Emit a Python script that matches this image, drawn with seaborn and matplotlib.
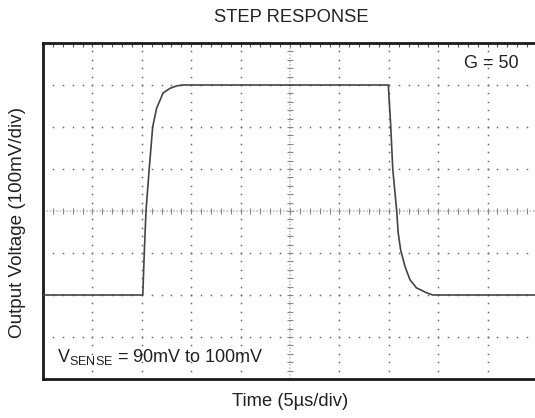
import numpy as np
import pandas as pd
import seaborn as sns

from matplotlib import pyplot as plt
from matplotlib.ticker import MultipleLocator

# trace, in divisions (x: 5us/div, y: 100mV/div)
TIME_DIV = [0.0, 2.02, 2.05, 2.085, 2.15, 2.22, 2.30, 2.37, 2.43, 2.57, 2.71, 2.83,
            6.99, 7.04, 7.08, 7.16, 7.19, 7.24, 7.33, 7.43, 7.56, 7.77, 7.89, 10.0]
VOLT_DIV = [2.0, 2.0, 3.0, 4.0, 5.0, 6.0, 6.45, 6.64, 6.81, 6.92, 6.98, 7.0,
            7.0, 6.0, 5.0, 4.0, 3.48, 3.07, 2.67, 2.36, 2.17, 2.05, 2.0, 2.0]

X_DIVS = 10
Y_DIVS = 8

TITLE = 'STEP RESPONSE'
X_LABEL = 'Time (5\u00b5s/div)'
Y_LABEL = 'Output Voltage (100mV/div)'
GAIN_LABEL = 'G = 50'
SENSE_LABEL = r'V$_{\mathrm{SENSE}}$ = 90mV to 100mV'


def main():
    sns.set_style('white')
    plt.rcParams['font.family'] = ['Liberation Sans', 'DejaVu Sans']
    plt.rcParams['mathtext.fontset'] = 'custom'
    plt.rcParams['mathtext.rm'] = 'Liberation Sans'

    fig = plt.figure(figsize=(5.35, 4.18), dpi=100)
    ax = fig.add_axes([43 / 535, 1 - 379 / 418, 494 / 535, 336 / 418])

    # dotted graticule
    minor_x = np.arange(0, X_DIVS + 0.001, 0.2)
    minor_y = np.arange(0, Y_DIVS + 0.001, 0.2)
    for gx in range(1, X_DIVS):
        if gx == X_DIVS // 2:
            continue
        ax.plot(np.full_like(minor_y, gx), minor_y, ls='none', marker='s',
                ms=1.1, mew=0, color='#666666', zorder=1)
    for gy in range(1, Y_DIVS):
        if gy == Y_DIVS // 2:
            continue
        ax.plot(minor_x, np.full_like(minor_x, gy), ls='none', marker='s',
                ms=1.1, mew=0, color='#666666', zorder=1)

    # centre axes with tick marks
    cx, cy = X_DIVS / 2, Y_DIVS / 2
    ax.axvline(cx, color='#c4c4c4', lw=1.2, ls=(0, (1, 1)), zorder=1)
    ax.axhline(cy, color='#c4c4c4', lw=1.2, ls=(0, (1, 1)), zorder=1)
    ax.plot(np.full_like(minor_y, cx), minor_y, ls='none', marker='_',
            ms=4.5, mew=0.8, color='#888888', zorder=1)
    ax.plot(minor_x, np.full_like(minor_x, cy), ls='none', marker='|',
            ms=4.5, mew=0.8, color='#888888', zorder=1)

    df = pd.DataFrame({'time': TIME_DIV, 'volt': VOLT_DIV})
    sns.lineplot(data=df, x='time', y='volt', sort=False, estimator=None,
                 color='#444444', lw=1.2, ax=ax, zorder=3)

    ax.set_xlim(0, X_DIVS)
    ax.set_ylim(0, Y_DIVS)
    ax.xaxis.set_major_locator(MultipleLocator(1))
    ax.yaxis.set_major_locator(MultipleLocator(1))
    ax.xaxis.set_minor_locator(MultipleLocator(0.2))
    ax.yaxis.set_minor_locator(MultipleLocator(0.2))
    ax.tick_params(which='both', direction='in', length=3, width=0.8,
                   color='#555555', top=True, right=False,
                   labelbottom=False, labelleft=False)
    for side in ax.spines.values():
        side.set_linewidth(2.0)
        side.set_color('#1a1a1a')
    ax.spines['right'].set_visible(False)
    ax.set_xlabel('')
    ax.set_ylabel('')

    ax.text(9.62, 7.52, GAIN_LABEL, ha='right', va='center', fontsize=13,
            color='#222222')
    ax.text(0.28, 0.52, SENSE_LABEL, ha='left', va='center', fontsize=13,
            color='#222222')

    fig.text(291 / 535, 1 - 18 / 418, TITLE, ha='center', va='center',
             fontsize=13.2, color='#222222')
    fig.text(290 / 535, 1 - 401 / 418, X_LABEL, ha='center', va='center',
             fontsize=13.2, color='#222222')
    fig.text(18 / 535, 1 - 222 / 418, Y_LABEL, ha='center', va='center',
             rotation=90, fontsize=13.6, color='#222222')

    fig.savefig('out.png', dpi=100)


if __name__ == '__main__':
    main()
